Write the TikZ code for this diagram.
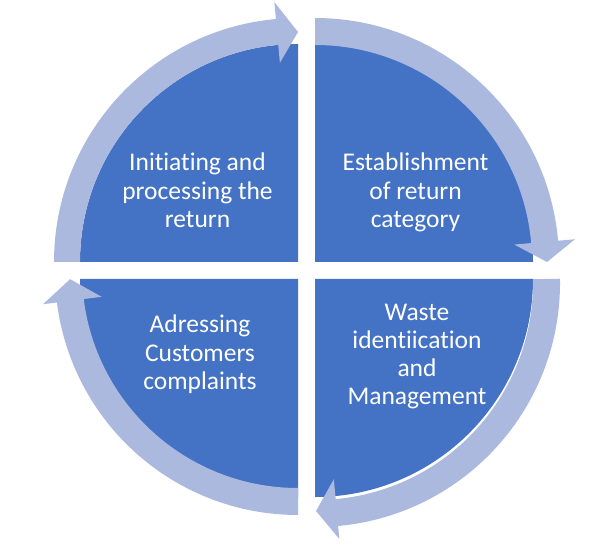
\documentclass[tikz,border=0pt]{standalone}
\usepackage{fontspec}
\setmainfont{Carlito}[Ligatures={NoCommon}]
\definecolor{quadblue}{RGB}{68,114,196}
\definecolor{bandblue}{RGB}{171,185,222}
\tikzset{
  quad/.style={fill=quadblue},
  band/.style={fill=bandblue},
  label/.style={text=white, align=center, inner sep=0pt, anchor=base,
    font=\fontsize{25.5}{28.3}\selectfont}
}
% circular arrow: #1 centre, #2 start angle, #3 back angle, #4 tip angle,
% #5 inner r, #6 outer r, #7 head inner, #8 head outer, #9 tip r
\newcommand{\circarrow}[9]{%
  \fill[band,shift={#1}] (#2:#6) arc[start angle=#2, end angle=#3, radius=#6]
    -- (#3:#8) -- (#4:#9) -- (#3:#7) -- (#3:#5)
    arc[start angle=#3, end angle=#2, radius=#5] -- cycle;}
\begin{document}
\begin{tikzpicture}[x=1pt,y=1pt]
\useasboundingbox (0,0) rectangle (601,545);
% quadrants
\fill[quad] (298,283) -- ++(180:218) arc[start angle=180, end angle=90, radius=218] -- cycle;
\fill[quad] (315,283) -- ++(90:218) arc[start angle=90, end angle=0, radius=218] -- cycle;
\fill[quad] (315,266) -- ++(0:218) arc[start angle=0, end angle=-90, radius=218] -- cycle;
\fill[quad] (298,266) -- ++(270:218) arc[start angle=270, end angle=180, radius=218] -- cycle;
% circular arrows
\circarrow{(298,283)}{180}{95.2}{90}{218}{244}{200}{261}{230}
\circarrow{(315,283)}{90}{5}{0}{217}{244}{200}{261}{232}
\circarrow{(316,262)}{1}{-84.8}{-90}{217}{244}{197}{257}{228}
\circarrow{(298,273)}{270}{187.2}{181.8}{216}{243}{198}{257}{228}
% labels (anchor base = baseline of last line)
\node[label] (tl) at (197.5,317.5) {Initiating and\\processing the\\return};
\node[label] (tr) at (415.5,317.5) {Establishment\\of return\\category};
\node[label] (bl) at (200,155.5) {Adressing\\Customers\\complaints};
\node[label] (br) at (417,140) {Waste\\identiication\\and\\Management};
\end{tikzpicture}
\end{document}
